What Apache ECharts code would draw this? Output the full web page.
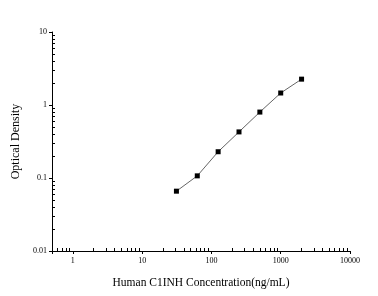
<!DOCTYPE html>
<html lang="en">
<head>
  <meta charset="UTF-8">
  <title>C1INH standard curve</title>
  <script src="https://cdn.jsdelivr.net/npm/echarts@6/dist/echarts.min.js"></script>
  <style type="text/css">
    html, body { margin: 0; padding: 0; background: #ffffff; }
    #chart { width: 378px; height: 296px; }
  </style>
</head>
<body>
<div id="chart"></div>
<script type="text/javascript">
// standard curve
var concentration = [31.25, 62.5, 125, 250, 500, 1000, 2000];
var density = [0.066, 0.107, 0.229, 0.428, 0.80, 1.46, 2.26];

var xLabels = ['1', '10', '100', '1000', '10000'];
var yLabels = ['0.01', '0.1', '1', '10'];

var points = [];
for (var i = 0; i < concentration.length; i++) {
  points.push([concentration[i], density[i]]);
}

var serif = 'Liberation Serif';
var myChart = echarts.init(document.getElementById('chart'));

// main axes: major ticks outside, labels
// overlay axes: same scale, only the minor ticks, drawn inside
var option = {
  backgroundColor: '#ffffff',
  animation: false,
  grid: { left: 52, right: 28, top: 32, bottom: 45 },
  xAxis: [
    {
      type: 'log',
      min: 0.5,
      max: 10000,
      name: 'Human C1INH Concentration(ng/mL)',
      nameLocation: 'middle',
      nameGap: 26,
      nameTextStyle: { fontFamily: serif, fontSize: 11.5, color: '#000' },
      axisLine: { lineStyle: { color: '#000', width: 1 } },
      axisTick: { length: 3, lineStyle: { color: '#000' } },
      splitLine: { show: false },
      axisLabel: {
        fontFamily: serif, fontSize: 8, color: '#000', margin: 6,
        formatter: function (v) {
          var s = String(Math.round(v));
          return xLabels.indexOf(s) >= 0 && Math.abs(v - Math.round(v)) < 1e-6 ? s : '';
        }
      }
    },
    {
      type: 'log',
      min: 0.5,
      max: 10000,
      position: 'bottom',
      axisLine: { show: false },
      axisTick: { show: false, inside: true },
      minorTick: { show: true, splitNumber: 9, length: 3, lineStyle: { color: '#000' } },
      splitLine: { show: false },
      axisLabel: { show: false }
    }
  ],
  yAxis: [
    {
      type: 'log',
      min: 0.01,
      max: 10,
      name: 'Optical Density',
      nameLocation: 'middle',
      nameGap: 29,
      nameTextStyle: { fontFamily: serif, fontSize: 12, color: '#000' },
      axisLine: { show: true, lineStyle: { color: '#000', width: 1 } },
      axisTick: { show: true, length: 3, lineStyle: { color: '#000' } },
      splitLine: { show: false },
      axisLabel: {
        fontFamily: serif, fontSize: 8, color: '#000', margin: 5,
        formatter: function (v) {
          var s = String(+v.toPrecision(3));
          return yLabels.indexOf(s) >= 0 ? s : '';
        }
      }
    },
    {
      type: 'log',
      min: 0.01,
      max: 10,
      position: 'left',
      axisLine: { show: false },
      axisTick: { show: false, inside: true },
      minorTick: { show: true, splitNumber: 9, length: 3, lineStyle: { color: '#000' } },
      splitLine: { show: false },
      axisLabel: { show: false }
    }
  ],
  series: [
    {
      type: 'line',
      data: points,
      symbol: 'rect',
      symbolSize: 5,
      itemStyle: { color: '#000' },
      lineStyle: { color: '#666', width: 1 }
    }
  ]
};
myChart.setOption(option);
</script>
</body>
</html>
